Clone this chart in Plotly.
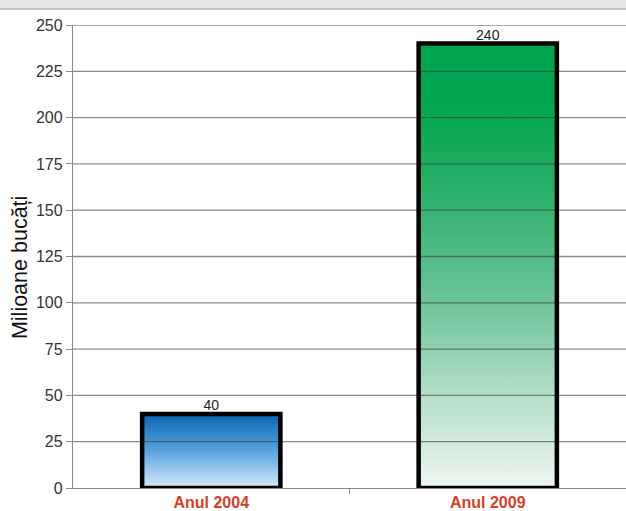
import plotly.graph_objects as go

categories = ["Anul 2004", "Anul 2009"]
values = [40, 240]
value_labels = ["40", "240"]
y_ticks = [0, 25, 50, 75, 100, 125, 150, 175, 200, 225, 250]
y_title = "Milioane bucăți"

blue_scale = [[0.0, "#d6eafa"], [0.5, "#5aa3de"], [1.0, "#0866b4"]]
green_scale = [[0.0, "#eef6f1"], [0.2, "#b8e0cb"], [0.4, "#72c69c"],
               [0.6, "#3cb576"], [0.8, "#0ca956"], [0.87, "#00a651"], [1.0, "#00a651"]]
scales = [blue_scale, green_scale]

half = 0.25
xs = list(range(len(categories)))
FONT = "Liberation Sans, Arial"

fig = go.Figure()

# gradient fills
for i, v in enumerate(values):
    fig.add_trace(go.Scatter(
        x=[i - half, i + half, i + half, i - half, i - half],
        y=[0, 0, v, v, 0],
        mode="none", fill="toself",
        fillgradient=dict(type="vertical", colorscale=scales[i], start=0, stop=v),
        hoverinfo="skip", showlegend=False))

# gridlines drawn over the fills
gx, gy = [], []
for t in y_ticks[1:]:
    gx += [-0.5, 1.5, None]
    gy += [t, t, None]
fig.add_trace(go.Scatter(x=gx, y=gy, mode="lines",
                         line=dict(color="rgba(60,60,60,0.6)", width=1.3),
                         hoverinfo="skip", showlegend=False))

# black outlines
for i, v in enumerate(values):
    fig.add_trace(go.Scatter(
        x=[i - half, i + half, i + half, i - half, i - half],
        y=[0, 0, v, v, 0],
        mode="lines", line=dict(color="black", width=4.5),
        hoverinfo="skip", showlegend=False))

# value labels
fig.add_trace(go.Scatter(x=xs, y=values, mode="text", text=value_labels,
                         textposition="top center",
                         textfont=dict(family=FONT, size=14, color="#222"),
                         hoverinfo="skip", showlegend=False))

fig.update_layout(
    width=626, height=511,
    margin=dict(l=73, r=0, t=25, b=23),
    paper_bgcolor="white", plot_bgcolor="white",
    font=dict(family=FONT, color="#333"),
    xaxis=dict(range=[-0.5, 1.5], tickvals=xs,
               ticktext=["<b>%s</b>" % c for c in categories],
               showgrid=False, zeroline=False, showline=True, linecolor="#888", linewidth=1.3,
               ticks="", tickfont=dict(size=16, color="#d6402a", family=FONT),
               minor=dict(tickvals=[0.5], ticks="outside", ticklen=5, tickcolor="#888"),
               fixedrange=True),
    yaxis=dict(range=[0, 250], tickvals=y_ticks, showgrid=False, zeroline=False,
               showline=True, linecolor="#888", linewidth=1.3,
               ticks="outside", ticklen=6, tickcolor="#888",
               tickfont=dict(size=16, color="#333"),
               fixedrange=True),
    annotations=[dict(text=y_title, textangle=-90, xref="paper", yref="paper",
                      x=-53 / 553, y=0.475, xanchor="center", yanchor="middle",
                      showarrow=False, font=dict(size=21.5, color="#111", family=FONT))],
    shapes=[
        dict(type="rect", xref="paper", yref="paper", x0=-0.2, x1=1.1,
             y0=1 + 17 / 463, y1=1.2, fillcolor="#e6e6e6", line=dict(width=0), layer="below"),
        dict(type="line", xref="paper", yref="paper", x0=-0.2, x1=1.1,
             y0=1 + 16 / 463, y1=1 + 16 / 463, line=dict(color="#c4c4c4", width=2)),
    ],
)

fig.write_html("out.html", config={"displayModeBar": False},
               post_script="document.body.style.margin='0';")
